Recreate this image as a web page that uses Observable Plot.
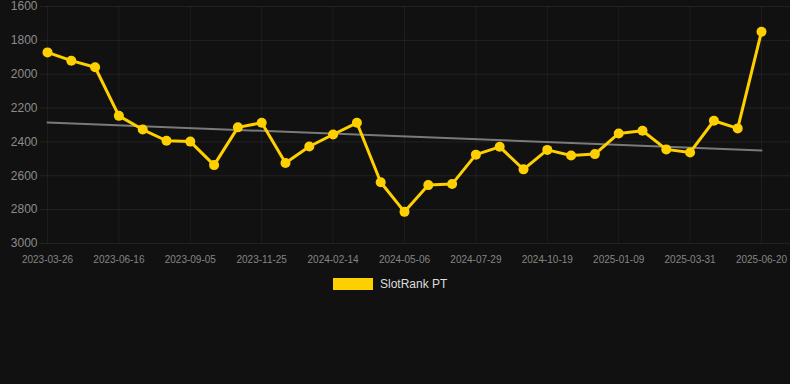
<!DOCTYPE html>
<html>
<head>
<meta charset="utf-8">
<script src="https://cdn.jsdelivr.net/npm/d3@7"></script>
<script src="https://cdn.jsdelivr.net/npm/@observablehq/plot@0.6"></script>
<style>
  html, body { margin: 0; padding: 0; background: #111111; }
  body { width: 790px; height: 384px; overflow: hidden; font-family: "Liberation Sans", Arial, sans-serif; }
  #chart svg { display: block; background: #111111; }
  #legend { display: flex; align-items: center; margin-top: 8px; padding-left: 333px; height: 12px; }
  #legend .sw { width: 40px; height: 12px; background: #FFD000; margin-right: 7px; }
  #legend .lb { font-size: 12px; color: #dddddd; line-height: 12px; }
</style>
</head>
<body>
<div id="chart"></div>
<div id="legend"><div class="sw"></div><div class="lb" id="legendLabel"></div></div>
<script>
const seriesName = "SlotRank PT";
const tickLabels = ["2023-03-26", "2023-06-16", "2023-09-05", "2023-11-25", "2024-02-14",
  "2024-05-06", "2024-07-29", "2024-10-19", "2025-01-09", "2025-03-31", "2025-06-20"];
const ranks = [1871, 1920, 1959, 2246, 2327, 2393, 2398, 2537, 2314, 2287,
  2525, 2427, 2356, 2287, 2638, 2813, 2655, 2649, 2475, 2429,
  2562, 2447, 2480, 2472, 2350, 2334, 2444, 2462, 2275, 2320, 1749];
const yTicks = [1600, 1800, 2000, 2200, 2400, 2600, 2800, 3000];

const data = ranks.map((v, i) => ({ i, v }));
const xTicks = tickLabels.map((_, k) => k * 3);

const chart = Plot.plot({
  width: 790,
  height: 270,
  marginTop: 6,
  marginBottom: 27,
  marginLeft: 40,
  marginRight: 0,
  style: { background: "#111111", fontFamily: "Liberation Sans, Arial, sans-serif" },
  x: { type: "linear", domain: [0, ranks.length - 1], range: [47, 761] },
  y: { domain: [1600, 3000], reverse: true },
  marks: [
    Plot.gridY(yTicks, { stroke: "#ffffff", strokeOpacity: 0.07 }),
    Plot.gridX(xTicks, { stroke: "#ffffff", strokeOpacity: 0.05 }),
    Plot.axisY({ ticks: yTicks, tickFormat: (d) => String(d), tickSize: 0, tickPadding: 3, fontSize: 12, color: "#8c8c8c", label: null }),
    Plot.axisX({ ticks: xTicks, tickFormat: (d) => tickLabels[d / 3], tickSize: 0, tickPadding: 12, fontSize: 10, color: "#858585", label: null }),
    Plot.linearRegressionY(data, { x: "i", y: "v", stroke: "#7a7a7a", strokeWidth: 2, ci: 0 }),
    Plot.line(data, { x: "i", y: "v", stroke: "#FFD000", strokeWidth: 3 }),
    Plot.dot(data, { x: "i", y: "v", fill: "#FFD000", r: 5 })
  ]
});
document.getElementById("chart").append(chart);
document.getElementById("legendLabel").textContent = seriesName;
</script>
</body>
</html>
